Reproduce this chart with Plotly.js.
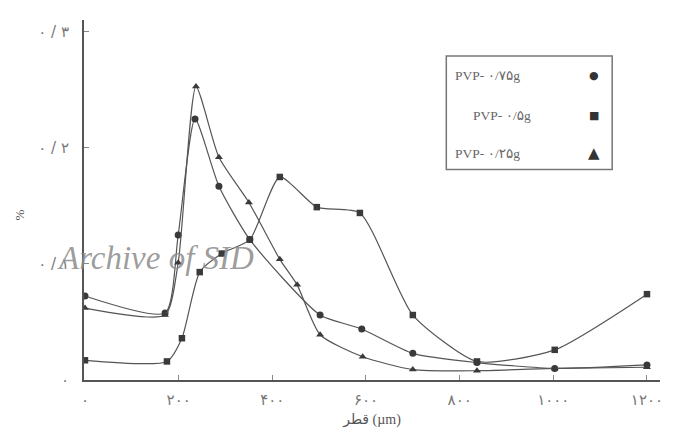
<!DOCTYPE html>
<html>
<head>
<meta charset="utf-8">
<script src="https://cdn.plot.ly/plotly-3.0.1.min.js"></script>
<style>html,body{margin:0;padding:0;background:#fff;}#chart{width:679px;height:439px;}</style>
</head>
<body>
<div id="chart"></div>
<script>
// Data (diameter in µm, fraction)
const circleX = [0, 171, 199, 235, 286, 352, 502, 591, 700, 837, 1003, 1200];
const circleY = [0.0724, 0.0578, 0.125, 0.225, 0.167, 0.121, 0.056, 0.044, 0.023, 0.015, 0.010, 0.013];

const squareX = [0, 175, 207, 245, 292, 352, 416, 495, 587, 700, 837, 1003, 1200];
const squareY = [0.017, 0.016, 0.036, 0.093, 0.109, 0.121, 0.175, 0.149, 0.144, 0.056, 0.016, 0.026, 0.074];

const triX = [0, 171, 199, 237, 286, 350, 416, 453, 502, 593, 700, 837, 1003, 1200];
const triY = [0.062, 0.056, 0.101, 0.253, 0.192, 0.153, 0.104, 0.082, 0.039, 0.020, 0.009, 0.008, 0.010, 0.011];

const xTickVals = [0, 200, 400, 600, 800, 1000, 1200];
const xTickText = ['۰', '۲۰۰', '۴۰۰', '۶۰۰', '۸۰۰', '۱۰۰۰', '۱۲۰۰'];
const yTickVals = [0, 0.1, 0.2, 0.3];
const yTickText = ['۰', '۰ / ۱', '۰ / ۲', '۰ / ۳'];

const seriesNames = ['PVP- ۰/۷۵g', 'PVP- ۰/۵g', 'PVP- ۰/۲۵g'];
const seriesSymbols = ['●', '■', '▲'];

const lineStyle = {color: '#555', width: 1.2, shape: 'spline', smoothing: 0.6};
const mk = (sym, size) => ({symbol: sym, size: size, color: '#3a3a3a'});

const traces = [
  {x: circleX, y: circleY, mode: 'lines+markers', name: seriesNames[0], line: lineStyle, marker: mk('circle', 7)},
  {x: squareX, y: squareY, mode: 'lines+markers', name: seriesNames[1], line: lineStyle, marker: mk('square', 6.5)},
  {x: triX, y: triY, mode: 'lines+markers', name: seriesNames[2], line: lineStyle, marker: mk('triangle-up', 7)}
];

const serif = 'Liberation Serif, DejaVu Serif, DejaVu Sans, serif';

// Legend drawn as a boxed panel (text left, symbol right, as in the reference)
const legendRows = [
  {tx: 0.70, ty: 0.845, sx: 0.885},
  {tx: 0.725, ty: 0.735, sx: 0.885},
  {tx: 0.70, ty: 0.63, sx: 0.885}
];
const annotations = [];
seriesNames.forEach((n, i) => {
  const r = legendRows[i];
  annotations.push({xref: 'paper', yref: 'paper', x: r.tx, y: r.ty, text: n, showarrow: false,
    font: {family: serif, size: 13.5, color: '#666'}, xanchor: 'center', yanchor: 'middle'});
  annotations.push({xref: 'paper', yref: 'paper', x: r.sx, y: r.ty, text: seriesSymbols[i], showarrow: false,
    font: {family: 'DejaVu Sans', size: i === 2 ? 15 : 11, color: '#333'}, xanchor: 'center', yanchor: 'middle'});
});
annotations.push({xref: 'paper', yref: 'paper', x: -0.05, y: 0.34, text: '<i>Archive of SID</i>', showarrow: false,
  font: {family: serif, size: 33, color: 'rgba(140,140,140,0.85)'}, xanchor: 'left', yanchor: 'middle'});
// y-axis title (%), rotated, at its place in the reference
annotations.push({xref: 'paper', yref: 'paper', x: -0.112, y: 0.458, text: '%', showarrow: false, textangle: -90,
  font: {family: serif, size: 13, color: '#555'}, xanchor: 'center', yanchor: 'middle'});

const layout = {
  width: 679, height: 439,
  margin: {l: 84, r: 19, t: 20, b: 59},
  paper_bgcolor: '#fff', plot_bgcolor: '#fff',
  showlegend: false,
  xaxis: {
    range: [-2.1, 1227.8], showgrid: false, zeroline: false,
    showline: true, linecolor: '#555', linewidth: 2,
    tickvals: xTickVals, ticktext: xTickText, ticks: 'inside', ticklen: 5, tickcolor: '#888',
    tickfont: {family: 'DejaVu Sans', size: 15, color: '#777'}, ticklabelstandoff: 5,
    title: {text: 'قطر (µm)', font: {family: serif, size: 14, color: '#555'}, standoff: 6}
  },
  yaxis: {
    range: [0, 0.3103], showgrid: false, zeroline: false,
    showline: true, linecolor: '#555', linewidth: 2,
    tickvals: yTickVals, ticktext: yTickText, ticks: 'inside', ticklen: 5, tickcolor: '#888',
    tickfont: {family: 'DejaVu Sans', size: 15, color: '#777'}, ticklabelstandoff: 10
  },
  shapes: [{type: 'rect', xref: 'paper', yref: 'paper', x0: 0.629, x1: 0.917, y0: 0.585, y1: 0.90,
    line: {color: '#777', width: 1.5}, fillcolor: 'rgba(0,0,0,0)'}],
  annotations: annotations
};

Plotly.newPlot('chart', traces, layout, {displayModeBar: false, staticPlot: true});
</script>
</body>
</html>
